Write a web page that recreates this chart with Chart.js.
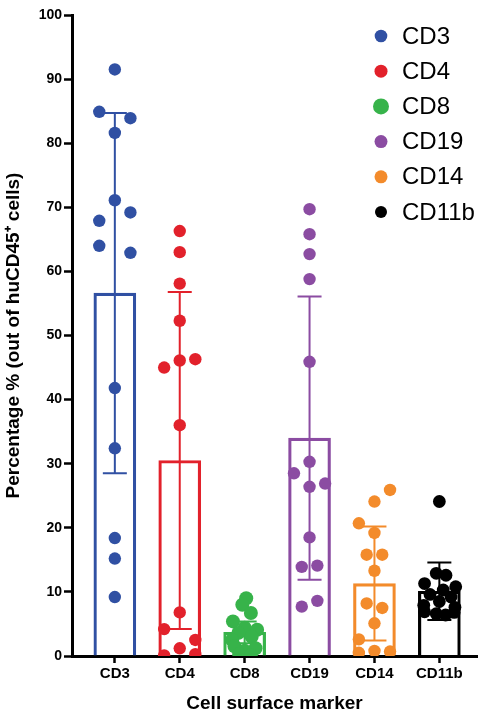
<!DOCTYPE html>
<html><head><meta charset="utf-8">
<script src="https://cdn.jsdelivr.net/npm/chart.js@4"></script>
<style>html,body{margin:0;padding:0;background:#fff}#wrap{width:484px;height:715px}</style>
</head><body><div id="wrap"><canvas id="c" width="484" height="715"></canvas></div>
<script>
const categories = ['CD3', 'CD4', 'CD8', 'CD19', 'CD14', 'CD11b'];
const colors = ['#3050A3', '#E2212B', '#37B34A', '#8B4CA2', '#F38B2B', '#000000'];
const means = [56.6, 30.5, 3.7, 34.0, 11.3, 10.1];
const sds = [28.1, 26.3, 1.7, 22.1, 8.9, 4.5];

const cd3Values = [91.5, 84.9, 83.9, 81.6, 71.1, 69.2, 67.9, 64.0, 62.9, 41.8, 32.4, 18.4, 15.2, 9.2];
const cd3Jitter = [0, -2, 2, 0, 0, 2, -2, -2, 2, 0, 0, 0, 0, 0];
const cd4Values = [66.3, 63.0, 58.1, 52.3, 46.3, 46.1, 45.0, 36.0, 6.8, 4.2, 2.5, 1.2, 0.3, 0.1];
const cd4Jitter = [0, 0, 0, 0, 2, 0, -2, 0, 0, -2, 2, 0, 2, -2];
const cd8Values = [9.0, 8.0, 6.7, 5.4, 4.4, 4.1, 3.6, 3.0, 2.5, 1.5, 1.2, 0.8, 0.3, 0.1];
const cd8Jitter = [0.2, -0.3, 0.8, -1.5, 0, 1.6, -0.8, 0.9, -1.6, -1.3, 1.4, 0, -0.7, 0.8];
const cd19Values = [69.7, 65.8, 62.7, 58.8, 45.9, 30.3, 28.5, 26.9, 26.4, 18.5, 14.1, 13.9, 8.6, 7.7];
const cd19Jitter = [0, 0, 0, 0, 0, 0, -2, 2, 0, 0, 1, -1, 1, -1];
const cd14Values = [25.9, 24.1, 20.7, 19.2, 15.8, 15.8, 13.3, 8.2, 7.5, 5.1, 2.6, 0.8, 0.7, 0.5];
const cd14Jitter = [2, 0, -2, 0, -1, 1, 0, -1, 1, 0, -2, 0, 2, -2];
const cd11bValues = [24.1, 12.9, 12.6, 11.3, 10.8, 10.3, 9.6, 9.2, 8.5, 7.9, 7.6, 6.9, 6.6, 6.4, 6.8];
const cd11bJitter = [0, -0.4, 0.85, -1.9, 2.1, 0.5, -1.2, 1.5, 0, -2, 2, -1.9, -0.4, 0.8, 1.9];

const yTicks = [0, 10, 20, 30, 40, 50, 60, 70, 80, 90, 100];

const seriesValues = [cd3Values, cd4Values, cd8Values, cd19Values, cd14Values, cd11bValues];
const seriesJitter = [cd3Jitter, cd4Jitter, cd8Jitter, cd19Jitter, cd14Jitter, cd11bJitter];
const pointRadii = [6.2, 6.2, 7, 6.2, 6.2, 6.4];
const SLOT = 0.12;
const FONT = '"Liberation Sans", Arial, sans-serif';

const scatterSets = categories.map((c, i) => ({
  type: 'scatter',
  label: c,
  data: seriesValues[i].map((v, k) => ({ x: i + 1 + seriesJitter[i][k] * SLOT, y: v })),
  backgroundColor: colors[i],
  borderWidth: 0,
  pointRadius: pointRadii[i],
  pointHoverRadius: pointRadii[i],
  order: 0
}));

const barSet = {
  type: 'bar',
  label: 'mean',
  data: means.map((m, i) => ({ x: i + 1, y: m })),
  backgroundColor: 'rgba(255,255,255,0)',
  borderColor: colors,
  borderWidth: 2.5,
  barThickness: 42,
  grouped: false,
  order: 1
};
const BAR_INDEX = scatterSets.length;

const errorBars = {
  id: 'errorBars',
  afterDatasetDraw(chart, args) {
    if (args.index !== BAR_INDEX) return;
    const { ctx, scales: { x, y } } = chart;
    ctx.save();
    ctx.lineWidth = 2;
    means.forEach((m, i) => {
      const px = x.getPixelForValue(i + 1);
      const top = y.getPixelForValue(m + sds[i]);
      const bot = y.getPixelForValue(Math.max(0, m - sds[i]));
      ctx.strokeStyle = colors[i];
      ctx.beginPath();
      ctx.moveTo(px, top); ctx.lineTo(px, bot);
      ctx.moveTo(px - 12, top); ctx.lineTo(px + 12, top);
      ctx.moveTo(px - 12, bot); ctx.lineTo(px + 12, bot);
      ctx.stroke();
    });
    ctx.restore();
  }
};

const legendRadii = [6.3, 6.5, 8, 6.5, 6.5, 6];
const customLegend = {
  id: 'customLegend',
  afterDraw(chart) {
    const ctx = chart.ctx;
    ctx.save();
    ctx.font = '24px ' + FONT;
    ctx.textBaseline = 'middle';
    ctx.textAlign = 'left';
    categories.forEach((c, i) => {
      const cy = 36 + i * 35.2;
      ctx.fillStyle = colors[i];
      ctx.beginPath();
      ctx.arc(381, cy, legendRadii[i], 0, Math.PI * 2);
      ctx.fill();
      ctx.fillStyle = '#000';
      ctx.fillText(c, 402, cy + 1);
    });
    ctx.restore();
  }
};

new Chart(document.getElementById('c'), {
  data: { datasets: [...scatterSets, barSet] },
  plugins: [errorBars, customLegend],
  options: {
    responsive: false,
    animation: false,
    layout: { padding: { top: 15, right: 4, left: 0, bottom: 0 } },
    plugins: { legend: { display: false }, tooltip: { enabled: false } },
    scales: {
      x: {
        type: 'linear',
        offset: false,
        min: 0.34,
        max: 6.58,
        afterBuildTicks: (s) => { s.ticks = categories.map((c, i) => ({ value: i + 1 })); },
        afterFit: (s) => { s.height = 59; },
        ticks: {
          callback: (v) => categories[Math.round(v) - 1],
          font: { family: FONT, weight: 'bold', size: 15 },
          color: '#000', padding: 2, autoSkip: false, maxRotation: 0
        },
        grid: { offset: false, drawOnChartArea: false, drawTicks: true, tickLength: 7, tickColor: '#000', tickWidth: 2.5, color: '#000' },
        border: { display: true, color: '#000', width: 3 },
        title: {
          display: true, text: 'Cell surface marker', color: '#000',
          font: { family: FONT, weight: 'bold', size: 19 }, padding: { top: 0, bottom: 0 }
        }
      },
      y: {
        min: 0, max: 100,
        afterBuildTicks: (s) => { s.ticks = yTicks.map(v => ({ value: v })); },
        afterFit: (s) => { s.width = 72; },
        ticks: { font: { family: FONT, weight: 'bold', size: 14 }, color: '#000', padding: 2 },
        grid: { drawOnChartArea: false, drawTicks: true, tickLength: 8, tickColor: '#000', tickWidth: 2.5, color: '#000' },
        border: { display: true, color: '#000', width: 3 },
        title: {
          display: true, text: 'Percentage % (out of huCD45\u207A cells)', color: '#000',
          font: { family: FONT, weight: 'bold', size: 19 }, padding: { top: 2, bottom: 0 }
        }
      }
    }
  }
});
</script></body></html>
